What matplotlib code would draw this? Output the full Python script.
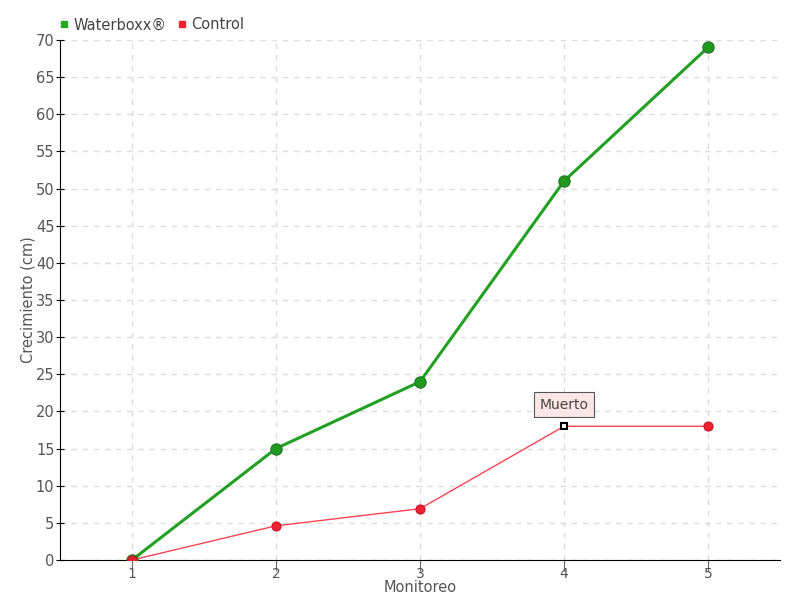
import matplotlib
matplotlib.use("Agg")
import matplotlib.pyplot as plt
from matplotlib.lines import Line2D

plt.rcParams['font.family'] = ['DejaVu Sans']

monitoreo = [1, 2, 3, 4, 5]
waterboxx = [0, 15, 24, 51, 69]
control = [0, 4.6, 6.9, 18, 18]
yticks = list(range(0, 75, 5))

fig = plt.figure(figsize=(8, 6), dpi=100)
ax = fig.add_axes([0.075, 0.0667, 0.9, 0.8667])

green = '#22a022'
red = '#ee2233'

ax.plot(monitoreo, waterboxx, color=green, lw=2.2, marker='o', ms=8,
        markerfacecolor='#1f9a1f', markeredgecolor='#2a7a2a', markeredgewidth=1, zorder=3)
ax.plot(monitoreo, control, color='#ff4455', lw=1, zorder=2)
for i, (x, y) in enumerate(zip(monitoreo, control)):
    if i == 3:
        ax.plot(x, y, marker='s', ms=5, markerfacecolor='white', markeredgecolor='black',
                markeredgewidth=1.5, zorder=4)
    else:
        ax.plot(x, y, marker='o', ms=6.5, markerfacecolor=red, markeredgecolor='#cc1122',
                markeredgewidth=0.8, zorder=4)

ax.annotate('Muerto', xy=(monitoreo[3], control[3]), xytext=(0, 15.5), textcoords='offset points',
            ha='center', va='center', fontsize=10, color='#444444',
            bbox=dict(boxstyle='square,pad=0.4', fc='#fde6e6', ec='#555555', lw=0.8),
            zorder=5)

ax.set_xlim(0.5, 5.5)
ax.set_ylim(0, 70)
ax.set_xticks(monitoreo)
ax.set_yticks(yticks)
ax.grid(True, color='#dddddd', linestyle=(0, (4, 4)), lw=1)
ax.set_axisbelow(True)
for s in ['top', 'right']:
    ax.spines[s].set_visible(False)
ax.spines['left'].set_color('black')
ax.spines['bottom'].set_color('black')
ax.tick_params(axis='x', direction='out', length=8, color='#666666', labelcolor='#555555', labelsize=10, pad=-3)
ax.tick_params(axis='y', direction='inout', length=6, color='black', labelcolor='#555555', labelsize=10.5, pad=1)
ax.set_xlabel('Monitoreo', color='#555555', fontsize=10.5, labelpad=-1)
ax.set_ylabel('Crecimiento (cm)', color='#555555', fontsize=10.5, labelpad=0)

handles = [Line2D([], [], ls='none', marker='s', ms=5, color='#22aa22'),
           Line2D([], [], ls='none', marker='s', ms=5, color=red)]
fig.legend(handles, ['Waterboxx®', 'Control'], loc='upper left', bbox_to_anchor=(0.055, 0.993),
           ncol=2, frameon=False, fontsize=10.5, handletextpad=0.1, columnspacing=0.6,
           handlelength=1, labelcolor='#444444')

fig.savefig('out.png', dpi=100)
